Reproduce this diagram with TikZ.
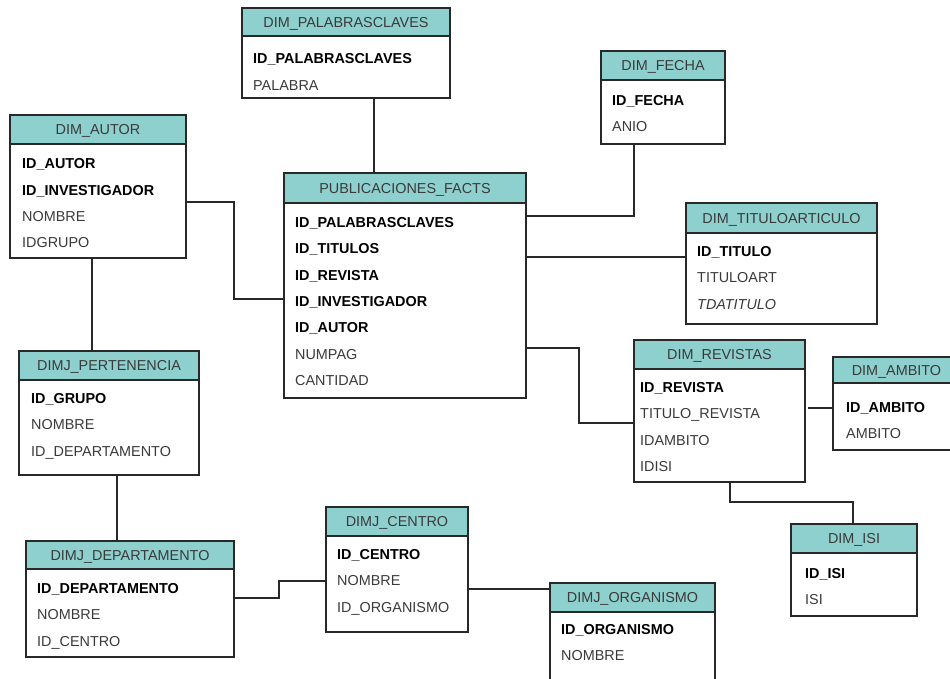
\documentclass[tikz,border=0pt]{standalone}
\usepackage{fontspec}
\setmainfont{Liberation Sans}
\usetikzlibrary{calc}

\definecolor{hdrteal}{RGB}{142,208,206}
\definecolor{inkgray}{RGB}{40,40,40}
\definecolor{txtgray}{RGB}{58,58,58}

\tikzset{
  tblbox/.style={rectangle, fill=white, inner sep=0pt, outer sep=0pt},
  tblline/.style={draw=inkgray, line width=1.1pt},
  titletext/.style={font=\fontsize{14.4}{17}\selectfont, text=txtgray, inner sep=0pt, anchor=base},
  rowtext/.style={font=\fontsize{14.4}{17}\selectfont, text=txtgray, inner sep=0pt, anchor=base west},
  link/.style={draw=inkgray, line width=1.1pt},
}

% key attribute (bold, black)
\newcommand\keyattr[1]{{\bfseries\color{black}#1}}

% \ertable{name}{left}{top}{right}{bottom}{header bottom}{title}{first row point}{rows}
\newcommand\ertable[9]{%
  \node[tblbox, anchor=north west, minimum width={(#4)-(#2)}, minimum height={(#5)-(#3)}] (#1) at (#2,#3) {};
  \fill[hdrteal] (#2,#3) rectangle (#4,#6);
  \draw[tblline] (#2,#3) rectangle (#4,#5);
  \draw[tblline] (#2,#6) -- (#4,#6);
  \node[titletext] (#1-title) at ({(#2+#4)/2},{(#3+#6)/2+5.2}) {#7};
  \foreach \r [count=\i] in {#9} {
    \node[rowtext] (#1-r\i) at ($(#8)+(0,{5.2+(\i-1)*26.4})$) {\r};
  }%
}

\begin{document}
\begin{tikzpicture}[x=1pt, y=-1pt]
  \clip (0,0) rectangle (950,679);
  \fill[white] (0,0) rectangle (950,679);

  % ---- tables ----
  \ertable{palabras}{242}{8}{450}{98}{36}{DIM\_PALABRASCLAVES}{253,58.5}
    {\keyattr{ID\_PALABRASCLAVES}, PALABRA}
  \ertable{autor}{10}{115}{186}{258}{144}{DIM\_AUTOR}{22,163.5}
    {\keyattr{ID\_AUTOR}, \keyattr{ID\_INVESTIGADOR}, NOMBRE, IDGRUPO}
  \ertable{facts}{284}{173}{526}{398}{203}{PUBLICACIONES\_FACTS}{295,222}
    {\keyattr{ID\_PALABRASCLAVES}, \keyattr{ID\_TITULOS}, \keyattr{ID\_REVISTA},
     \keyattr{ID\_INVESTIGADOR}, \keyattr{ID\_AUTOR}, NUMPAG, CANTIDAD}
  \ertable{fecha}{601}{51}{725}{144}{80}{DIM\_FECHA}{612,100}
    {\keyattr{ID\_FECHA}, ANIO}
  \ertable{titulo}{686}{203}{877}{324}{233}{DIM\_TITULOARTICULO}{697,251}
    {\keyattr{ID\_TITULO}, TITULOART, \textit{TDATITULO}}
  \ertable{revistas}{634}{340}{805}{482}{369}{DIM\_REVISTAS}{640,387}
    {\keyattr{ID\_REVISTA}, TITULO\_REVISTA, IDAMBITO, IDISI}
  \ertable{ambito}{833}{357}{960}{450}{383}{DIM\_AMBITO}{846,407}
    {\keyattr{ID\_AMBITO}, AMBITO}
  \ertable{isi}{791}{524}{917}{616}{553}{DIM\_ISI}{805,573}
    {\keyattr{ID\_ISI}, ISI}
  \ertable{pertenencia}{19}{351}{199}{475}{380}{DIMJ\_PERTENENCIA}{31,398}
    {\keyattr{ID\_GRUPO}, NOMBRE, ID\_DEPARTAMENTO}
  \ertable{departamento}{26}{541}{234}{657}{569}{DIMJ\_DEPARTAMENTO}{37,588}
    {\keyattr{ID\_DEPARTAMENTO}, NOMBRE, ID\_CENTRO}
  \ertable{centro}{326}{507}{468}{632}{536}{DIMJ\_CENTRO}{337,554}
    {\keyattr{ID\_CENTRO}, NOMBRE, ID\_ORGANISMO}
  \ertable{organismo}{550}{583}{715}{700}{612}{DIMJ\_ORGANISMO}{561,629}
    {\keyattr{ID\_ORGANISMO}, NOMBRE}

  % ---- bend points of the relationship lines ----
  \coordinate (kPal) at (374,0);
  \coordinate (kAutA) at (234,202);
  \coordinate (kAutB) at (234,299);
  \coordinate (kAutPer) at (92,0);
  \coordinate (kFecA) at (634,216);
  \coordinate (kTit) at (0,257);
  \coordinate (kRevA) at (579,348);
  \coordinate (kRevB) at (579,423);
  \coordinate (kAmb) at (0,408);
  \coordinate (kIsiA) at (730,502);
  \coordinate (kIsiB) at (853,502);
  \coordinate (kPerDep) at (117,0);
  \coordinate (kDepA) at (279,598);
  \coordinate (kDepB) at (279,581);
  \coordinate (kOrg) at (0,589);

  % ---- relationship lines ----
  \draw[link] (palabras.south -| kPal) -- (facts.north -| kPal);
  \draw[link] (autor.east |- kAutA) -- (kAutA) -- (kAutB) -- (facts.west |- kAutB);
  \draw[link] (autor.south -| kAutPer) -- (pertenencia.north -| kAutPer);
  \draw[link] (fecha.south -| kFecA) -- (kFecA) -- (facts.east |- kFecA);
  \draw[link] (facts.east |- kTit) -- (titulo.west |- kTit);
  \draw[link] (facts.east |- kRevA) -- (kRevA) -- (kRevB) -- (revistas.west |- kRevB);
  \draw[link] ($(revistas.east |- kAmb)+(3,0)$) -- (ambito.west |- kAmb);
  \draw[link] (revistas.south -| kIsiA) -- (kIsiA) -- (kIsiB) -- (isi.north -| kIsiB);
  \draw[link] (pertenencia.south -| kPerDep) -- (departamento.north -| kPerDep);
  \draw[link] (departamento.east |- kDepA) -- (kDepA) -- (kDepB) -- (centro.west |- kDepB);
  \draw[link] (centro.east |- kOrg) -- (organismo.west |- kOrg);
\end{tikzpicture}
\end{document}
